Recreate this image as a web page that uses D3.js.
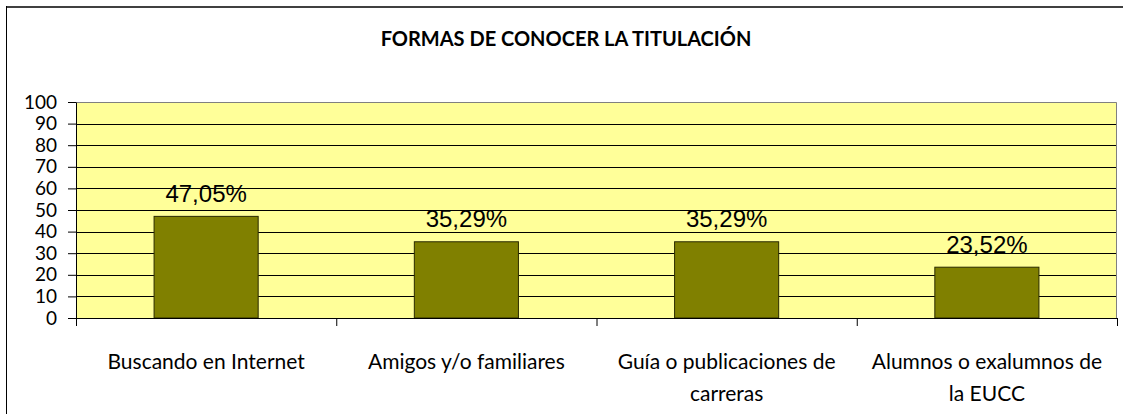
<!DOCTYPE html>
<html>
<head>
<meta charset="utf-8">
<script src="https://cdn.jsdelivr.net/npm/d3@7"></script>
<style>
  body { margin: 0; background: #fff; }
  svg { display: block; }
</style>
</head>
<body>
<svg id="chart" width="1123" height="414"></svg>
<script>
// data
var chartTitle = "FORMAS DE CONOCER LA TITULACIÓN";
var categories = ["Buscando en Internet", "Amigos y/o familiares", "Guía o publicaciones de carreras", "Alumnos o exalumnos de la EUCC"];
var values = [47.05, 35.29, 35.29, 23.52];
var yTicks = [0, 10, 20, 30, 40, 50, 60, 70, 80, 90, 100];

var width = 1123, height = 414;
var margin = {top: 102, right: 6, bottom: 96, left: 76};
var plotW = width - margin.left - margin.right;
var plotH = height - margin.top - margin.bottom;

var svg = d3.select("#chart");

// outer frame (only top and left edges show in the picture)
svg.append("line").attr("x1", 6).attr("x2", width).attr("y1", 7).attr("y2", 7)
    .style("stroke", "#404040").style("stroke-width", 2);
svg.append("line").attr("x1", 6.5).attr("x2", 6.5).attr("y1", 6).attr("y2", height)
    .style("stroke", "#000").style("stroke-width", 1);

svg.append("text")
    .attr("x", 566).attr("y", 46)
    .attr("text-anchor", "middle")
    .style("font-family", "Lato, 'Open Sans', sans-serif")
    .style("font-weight", "bold")
    .style("font-size", "20px")
    .text(chartTitle);

var g = svg.append("g").attr("transform", "translate(" + margin.left + "," + margin.top + ")");

var x = d3.scaleBand().domain(categories).range([0, plotW]).paddingInner(0.6).paddingOuter(0.3);
var y = d3.scaleLinear().domain([0, 100]).range([plotH, 0]);
var xEdges = d3.scaleLinear().domain([0, categories.length]).range([0, plotW]);

// plot background
g.append("rect").attr("width", plotW).attr("height", plotH).style("fill", "#FFFF99");

// gridlines
g.selectAll("line.grid")
    .data(yTicks.filter(function(d) { return d > 0 && d < 100; }))
    .enter().append("line")
    .attr("class", "grid")
    .attr("x1", 0).attr("x2", plotW)
    .attr("y1", function(d) { return Math.round(y(d)) + 0.5; })
    .attr("y2", function(d) { return Math.round(y(d)) + 0.5; })
    .style("stroke", "#000").style("stroke-width", 1);

// plot top/right border
g.append("path")
    .attr("d", "M0," + 0.5 + "H" + (plotW - 0.5) + "V" + plotH)
    .style("fill", "none").style("stroke", "#808080").style("stroke-width", 1);

// bars
g.selectAll("rect.bar")
    .data(values)
    .enter().append("rect")
    .attr("class", "bar")
    .attr("x", function(d, i) { return x(categories[i]); })
    .attr("y", function(d) { return y(d); })
    .attr("width", x.bandwidth())
    .attr("height", function(d) { return plotH - y(d); })
    .style("fill", "#808000")
    .style("stroke", "#2a2a00").style("stroke-width", 1);

// value labels
var fmt = d3.formatLocale({decimal: ",", thousands: ".", grouping: [3], currency: ["", "€"]}).format(".2f");
g.selectAll("text.val")
    .data(values)
    .enter().append("text")
    .attr("class", "val")
    .attr("x", function(d, i) { return x(categories[i]) + x.bandwidth() / 2; })
    .attr("y", function(d) { return y(d) - 14.5; })
    .attr("text-anchor", "middle")
    .style("font-family", "'Liberation Sans', Arial, sans-serif")
    .style("font-size", "24px")
    .style("fill", "#000")
    .text(function(d) { return fmt(d) + "%"; });

// y axis
var yAxis = d3.axisLeft(y).tickValues(yTicks).tickSize(8).tickSizeOuter(0).tickPadding(11);
var gY = g.append("g").call(yAxis);
gY.select(".domain").style("stroke", "#000");
gY.selectAll(".tick line").style("stroke", "#000");
gY.selectAll(".tick text")
    .style("font-family", "Lato, 'Open Sans', sans-serif")
    .style("font-size", "19px")
    .style("fill", "#000");

// x axis: tick marks at category edges
var edgeAxis = d3.axisBottom(xEdges).ticks(categories.length).tickSize(8).tickSizeOuter(0).tickFormat("");
var gE = g.append("g").attr("transform", "translate(0," + plotH + ")").call(edgeAxis);
gE.select(".domain").style("stroke", "#000");
gE.selectAll(".tick line").style("stroke", "#000");

// x axis: category labels
var labelAxis = d3.axisBottom(x).tickSize(0).tickPadding(0);
var gX = g.append("g").attr("transform", "translate(0," + plotH + ")").call(labelAxis);
gX.select(".domain").remove();
gX.selectAll(".tick text")
    .style("font-family", "Lato, 'Open Sans', sans-serif")
    .style("font-size", "21px")
    .style("fill", "#000")
    .call(wrap, 250);

function wrap(texts, maxW) {
    texts.each(function() {
        var text = d3.select(this);
        var words = text.text().split(/\s+/);
        var lines = [], line = [];
        text.text(null);
        var probe = text.append("tspan");
        words.forEach(function(w) {
            line.push(w);
            probe.text(line.join(" "));
            if (probe.node().getComputedTextLength() > maxW && line.length > 1) {
                line.pop();
                lines.push(line.join(" "));
                line = [w];
            }
        });
        lines.push(line.join(" "));
        probe.remove();
        lines.forEach(function(l, i) {
            text.append("tspan")
                .attr("x", 0)
                .attr("y", 51 + i * 32)
                .attr("dy", 0)
                .text(l);
        });
    });
}
</script>
</body>
</html>
